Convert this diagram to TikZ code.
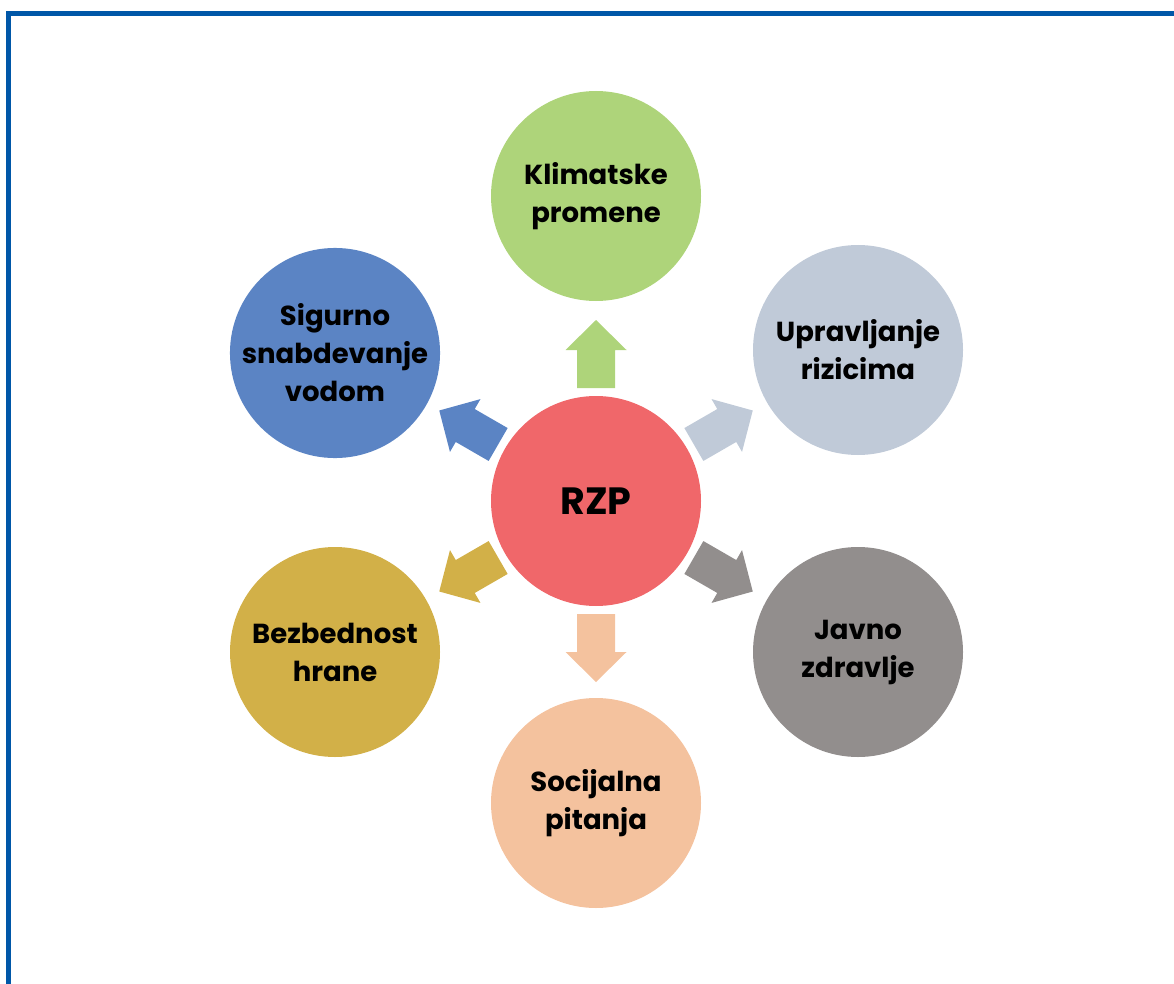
\documentclass[tikz,border=0pt]{standalone}
\usepackage{fontspec}
\setmainfont{Poppins}
\usepackage{tikz}
\usetikzlibrary{positioning,calc}
\definecolor{frameblue}{RGB}{0,87,168}
\definecolor{rzpred}{RGB}{240,103,106}
\definecolor{klimagreen}{RGB}{174,212,122}
\definecolor{rizikslate}{RGB}{192,202,216}
\definecolor{zdravgrey}{RGB}{146,142,141}
\definecolor{socpeach}{RGB}{244,194,158}
\definecolor{hranagold}{RGB}{210,176,72}
\definecolor{vodablue}{RGB}{91,132,196}

\begin{document}
\begin{tikzpicture}[x=1pt, y=-1pt,
    topic/.style={circle, minimum size=210pt, inner sep=0pt, align=center,
        font=\fontsize{27.5}{38}\selectfont\bfseries}]
    \useasboundingbox (0,0) rectangle (1174,984);
    % frame
    \fill[frameblue] (6,11) rectangle (1174,16);
    \fill[frameblue] (6,11) rectangle (11,984);

    \node[topic, fill=rzpred, font=\fontsize{38}{44}\selectfont\bfseries] (rzp) at (596,501) {RZP};
    \node[topic, fill=klimagreen] (klima) at (596,196) {Klimatske\\promene};
    \node[topic, fill=rizikslate] (rizik) at (858,350) {Upravljanje\\rizicima};
    \node[topic, fill=zdravgrey] (zdrav) at (858,652) {Javno\\zdravlje};
    \node[topic, fill=socpeach] (soc) at (596,803) {Socijalna\\pitanja};
    \node[topic, fill=hranagold] (hrana) at (335,652) {Bezbednost\\hrane};
    \node[topic, fill=vodablue] (voda) at (335,353) {Sigurno\\snabdevanje\\vodom};

    % block arrows out of the centre
    \foreach \ang/\col in {90/klimagreen, 30/rizikslate, -30/zdravgrey,
                           -90/socpeach, -150/hranagold, 150/vodablue}
        \fill[\col, shift={(rzp.center)}, rotate=\ang]
            (113,-19) -- (151,-19) -- (151,-30.5) -- (181,0)
            -- (151,30.5) -- (151,19) -- (113,19) -- cycle;
\end{tikzpicture}
\end{document}
